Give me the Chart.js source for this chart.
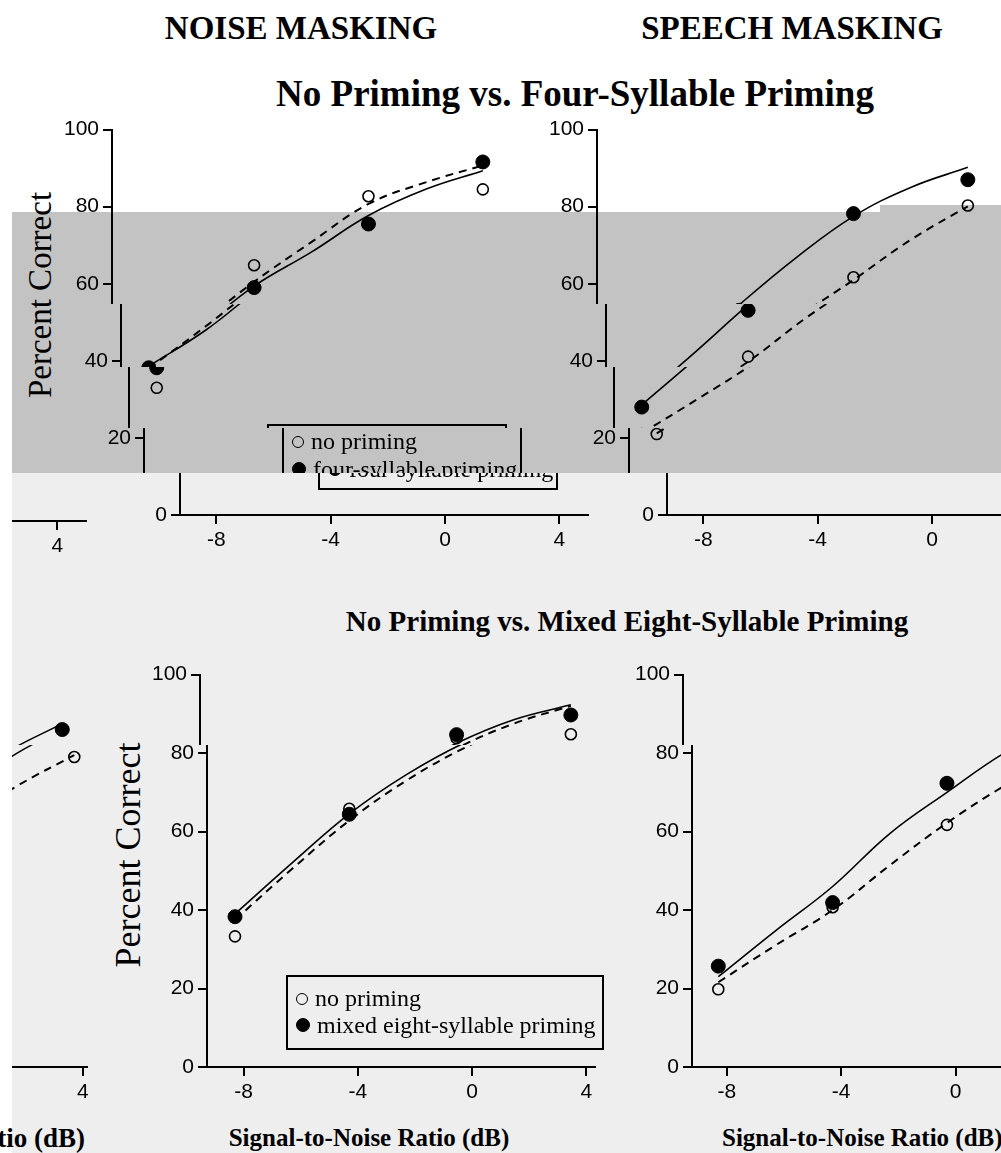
<!DOCTYPE html>
<html>
<head>
<meta charset="utf-8">
<script src="https://cdn.jsdelivr.net/npm/chart.js@4.4.1/dist/chart.umd.min.js"></script>
<style>
  body { margin: 0; width: 1001px; height: 1153px; overflow: hidden; position: relative; background: #fff; font-family: "Liberation Serif", serif; color: #000; }
  .band, .box { position: absolute; }
  .clip { position: absolute; overflow: hidden; }
  .txt { position: absolute; white-space: nowrap; line-height: 1; }
  .bold { font-weight: bold; }
  .legend { position: absolute; border: 2px solid #000; font-size: 24px; white-space: nowrap; box-sizing: border-box; padding-left: 8px; }
  .mk { display: inline-block; width: 10px; height: 10px; border-radius: 50%; border: 1.5px solid #000; margin-right: 7px; vertical-align: 1px; }
  .mk.fill { background: #000; width: 12px; height: 12px; }
</style>
</head>
<body>
<div class="band" style="left:12px;top:212px;width:989px;height:261px;background:#c3c3c3"></div>
<div class="band" style="left:880px;top:205px;width:121px;height:7px;background:#c3c3c3"></div>
<div class="band" style="left:12px;top:473px;width:989px;height:680px;background:#eeeeee"></div>

<div class="txt bold" style="left:301px;top:12px;font-size:33px;transform:translateX(-50%)">NOISE MASKING</div>
<div class="txt bold" style="left:792px;top:12px;font-size:33px;transform:translateX(-50%)">SPEECH MASKING</div>
<div class="txt bold" style="left:575px;top:75px;font-size:37px;transform:translateX(-50%)">No Priming vs. Four-Syllable Priming</div>
<div class="txt bold" style="left:627px;top:607px;font-size:29px;transform:translateX(-50%)">No Priming vs. Mixed Eight-Syllable Priming</div>

<div class="txt" style="left:40px;top:295px;font-size:33px;transform:translate(-50%,-50%) rotate(-90deg)">Percent Correct</div>
<div class="txt" style="left:128px;top:855px;font-size:36px;transform:translate(-50%,-50%) rotate(-90deg)">Percent Correct</div>

<div class="txt bold" style="left:369px;top:1125px;font-size:25px;transform:translateX(-50%)">Signal-to-Noise Ratio (dB)</div>
<div class="txt bold" style="left:722px;top:1125px;font-size:25px">Signal-to-Noise Ratio (dB)</div>
<div class="clip" style="left:0;top:1110px;width:90px;height:43px">
  <div class="txt bold" style="right:5px;top:15px;font-size:27px">Signal-to-Noise Ratio (dB)</div>
</div>

<script>
// signal-to-noise ratios (dB) of the measured points, and where the fitted curves were read
var snrLevels = [-8.3, -4.3, -0.3, 3.7];
var fitSNR = [-8.3, -6.3, -4.3, -2.3, -0.3, 1.7, 3.7];

var xTicks = [-8, -4, 0, 4];
var yTicks = [0, 20, 40, 60, 80, 100];

// noise masking, no priming vs four-syllable priming
var noiseFourNone = [33, 64.8, 82.7, 84.5];
var noiseFourPrimed = [38.2, 59, 75.5, 91.6];
var noiseFourNoneFit = [38, 49, 60.5, 70.8, 80.7, 86.3, 90.7];
var noiseFourPrimedFit = [38.6, 48, 59.4, 68.2, 77.7, 84.5, 89.3];

// speech masking, no priming vs four-syllable priming
var speechFourNone = [21, 41.1, 61.7, 80.3];
var speechFourPrimed = [28, 53.1, 78.2, 87];
var speechFourNoneFit = [21.2, 30.3, 39.8, 51, 61, 71.4, 80.1];
var speechFourPrimedFit = [28.6, 41.3, 54.5, 66.8, 77.5, 85, 90.2];

// noise masking, no priming vs mixed eight-syllable priming
var noiseEightNone = [33.3, 65.8, 83.8, 84.8];
var noiseEightPrimed = [38.3, 64.4, 84.7, 89.7];
var noiseEightNoneFit = [37.5, 50.5, 62.8, 73, 81.2, 87.5, 92];
var noiseEightPrimedFit = [39, 52, 64.5, 74.5, 82.5, 88.5, 92.3];

// speech masking, no priming vs mixed eight-syllable priming
var speechEightNone = [19.8, 40.7, 61.7, 79];
var speechEightPrimed = [25.7, 41.9, 72.3, 86];
var speechEightNoneFit = [21.6, 31, 40, 51.4, 62.2, 71.6, 79.5];
var speechEightPrimedFit = [23, 34.7, 46, 59.5, 70, 80, 87.5];

function pts(xs, ys) {
  var out = [];
  for (var i in xs) out.push({x: xs[i], y: ys[i]});
  return out;
}

function drawPanel(cv, p) {
  return new Chart(cv, {
    type: 'scatter',
    data: {
      datasets: [
        { data: pts(fitSNR, p.primedFit), showLine: true, borderColor: '#000', borderWidth: 1.6, pointRadius: 0, tension: 0.4 },
        { data: pts(fitSNR, p.noneFit), showLine: true, borderColor: '#000', borderWidth: 2, borderDash: [8, 6], pointRadius: 0, tension: 0.4 },
        { data: pts(snrLevels, p.primed), showLine: false, pointRadius: 7, pointBackgroundColor: '#000', pointBorderColor: '#000', pointBorderWidth: 1 },
        { data: pts(snrLevels, p.none), showLine: false, pointRadius: 5.5, pointBackgroundColor: 'rgba(0,0,0,0)', pointBorderColor: '#000', pointBorderWidth: 1.6 }
      ]
    },
    options: {
      responsive: true,
      maintainAspectRatio: false,
      animation: false,
      layout: { padding: { top: 14, right: 8, left: 0, bottom: 0 } },
      plugins: { legend: { display: false }, tooltip: { enabled: false } },
      scales: {
        x: {
          type: 'linear', min: p.xMin, max: p.xMax,
          afterBuildTicks: function(s) { s.ticks = xTicks.map(function(v) { return {value: v}; }); },
          afterFit: function(s) { s.height = 45; },
          grid: { drawOnChartArea: false, color: '#000', tickLength: 9, lineWidth: 2 },
          border: { color: '#000', width: 2 },
          ticks: { color: '#000', font: { family: 'Liberation Sans', size: 21 }, padding: 4, maxRotation: 0 }
        },
        y: {
          min: 0, max: 100,
          afterBuildTicks: function(s) { s.ticks = yTicks.map(function(v) { return {value: v}; }); },
          afterFit: function(s) { s.width = 62; },
          grid: { drawOnChartArea: false, color: '#000', tickLength: 9, lineWidth: 2 },
          border: { color: '#000', width: 2 },
          ticks: { color: '#000', font: { family: 'Liberation Sans', size: 21 }, padding: 4 }
        }
      }
    }
  });
}

// panel boxes; the picture is cut in horizontal strips, each slid sideways by dx
var panels = {
  tl: { L: 50, T: 113, W: 478, H: 447, xMin: -9.27, xMax: 5.0,
        none: noiseFourNone, primed: noiseFourPrimed, noneFit: noiseFourNoneFit, primedFit: noiseFourPrimedFit,
        legend: { left: 200, top: 311, w: 240, h: 66, pad: 1, lh: 28, second: 'four-syllable priming' } },
  tr: { L: 535, T: 113, W: 478, H: 447, xMin: -9.27, xMax: 5.0,
        none: speechFourNone, primed: speechFourPrimed, noneFit: speechFourNoneFit, primedFit: speechFourPrimedFit },
  bl: { L: 145, T: 658, W: 458, H: 454, xMin: -9.28, xMax: 4.3,
        none: noiseEightNone, primed: noiseEightPrimed, noneFit: noiseEightNoneFit, primedFit: noiseEightPrimedFit,
        legend: { left: 141, top: 317, w: 318, h: 75, pad: 8, lh: 27, second: 'mixed eight-syllable priming' } },
  br: { L: 630, T: 658, W: 465, H: 454, xMin: -9.22, xMax: 4.6,
        none: speechEightNone, primed: speechEightPrimed, noneFit: speechEightNoneFit, primedFit: speechEightPrimedFit }
};

function place(p, clipLeft, clipWidth, y0, y1, dx, dy) {
  var clip = document.createElement('div');
  clip.className = 'clip';
  clip.style.cssText = 'left:' + clipLeft + 'px;top:' + y0 + 'px;width:' + clipWidth + 'px;height:' + (y1 - y0) + 'px';
  var box = document.createElement('div');
  box.className = 'box';
  box.style.cssText = 'left:' + (p.L + dx - clipLeft) + 'px;top:' + (p.T + dy - y0) + 'px;width:' + p.W + 'px;height:' + p.H + 'px';
  var cv = document.createElement('canvas');
  box.appendChild(cv);
  if (p.legend) {
    var g = p.legend;
    var lg = document.createElement('div');
    lg.className = 'legend';
    lg.style.cssText = 'left:' + g.left + 'px;top:' + g.top + 'px;width:' + g.w + 'px;height:' + g.h + 'px;padding-top:' + g.pad + 'px;line-height:' + g.lh + 'px';
    lg.innerHTML = '<div><span class="mk"></span>no priming</div><div><span class="mk fill"></span>' + g.second + '</div>';
    box.appendChild(lg);
  }
  clip.appendChild(box);
  document.body.appendChild(clip);
  drawPanel(cv, p);
}

// upper row strips
place(panels.tl, 0, 560, 100, 304, 0, 0);
place(panels.tl, 0, 560, 304, 367, 9, 0);
place(panels.tl, 0, 560, 367, 428, 17, 0);
place(panels.tl, 0, 560, 428, 473, 32, 0);
place(panels.tl, 12, 578, 473, 560, 68, 0);
place(panels.tr, 530, 471, 100, 304, 0, 0);
place(panels.tr, 530, 471, 304, 367, 9, 0);
place(panels.tr, 530, 471, 367, 428, 17, 0);
place(panels.tr, 530, 471, 428, 473, 32, 0);
place(panels.tr, 590, 411, 473, 560, 70, 0);
// lower row strips
place(panels.bl, 100, 510, 640, 745, -7, 0);
place(panels.bl, 100, 510, 745, 1115, 0, 0);
place(panels.br, 615, 386, 640, 745, -9, 0);
place(panels.br, 615, 386, 745, 1115, 0, 0);
// stray slices at the left edge
place(panels.tr, 12, 76, 473, 560, -919, 6);
place(panels.br, 12, 76, 680, 745, -999, 0);
place(panels.br, 12, 76, 745, 1115, -987, 0);
</script>
</body>
</html>
